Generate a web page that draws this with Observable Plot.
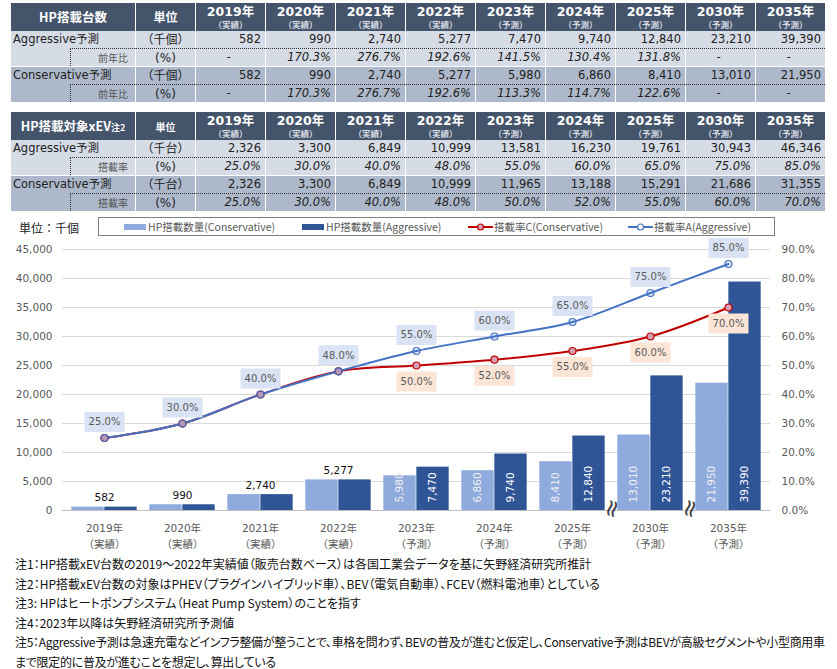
<!DOCTYPE html>
<html><head><meta charset="utf-8">
<script src="https://cdn.jsdelivr.net/npm/d3@7"></script>
<script src="https://cdn.jsdelivr.net/npm/@observablehq/plot@0.6"></script>
<style>
body{margin:0;background:#fff;width:837px;height:669px;overflow:hidden;position:relative;font-family:"DejaVu Sans","Noto Sans CJK JP",sans-serif}
.tbl{position:absolute;left:11px;width:814px;table-layout:fixed;border-collapse:separate;border-spacing:0;color:#222}
.tbl th{background:#44546a;color:#fff;padding:0;border-left:1px solid #fff;vertical-align:middle;text-align:center;line-height:1;height:28px;font-weight:bold}
.tbl th:first-child{border-left:0}
.tbl th.ttl{font-size:12.5px;font-family:"Noto Sans CJK JP","DejaVu Sans",sans-serif}
.tbl th.ttl small{font-size:9px}
.tbl th.unit{font-size:12px;font-family:"Noto Sans CJK JP",sans-serif}
.tbl .yr{font-size:12.5px;font-weight:bold}
.tbl .st{font-size:8.5px;font-weight:bold;color:#d5dae2;margin-top:2px;font-family:"Noto Sans CJK JP",sans-serif}
.tbl td{padding:0 4px 0 0;font-size:11.5px;border-left:1px solid #fff;line-height:1;white-space:nowrap;height:17px}
.tbl td:first-child{border-left:0}
.tbl tr.r2 td{border-top:1px dotted #333}
.tbl tr.r2 td.blank{border-top:0}
.tbl tr.r2 td.sub{border-left:1px dotted #333;text-align:right;font-size:10px;color:#555;padding-right:7px;font-family:"Noto Sans CJK JP",sans-serif}
.tbl tr.agg td{background:#d6dce5}
.tbl tr.con td{background:#adb9ca}
.tbl tr.con.r1 td{border-top:1px solid #fff}
.tbl td.num{text-align:right}
.tbl td.dash{text-align:center}
.tbl td.it{font-style:italic}
.tbl td.u{text-align:center;padding:0;font-size:12px}
.tbl td.name{text-align:left;padding-left:2px;font-size:11.5px}
#unit{position:absolute;left:19px;top:219px;font-size:12px;color:#222;font-family:"Noto Sans CJK JP",sans-serif}
#legend{position:absolute;left:98px;top:217px;width:677px;height:19px;border:1px solid #7f7f7f;box-sizing:border-box}
.li{position:absolute;top:0;height:17px;display:flex;align-items:center;font-size:10.5px;color:#595959;font-family:"Noto Sans CJK JP",sans-serif}
#chart{position:absolute;left:0;top:232px}
#notes{position:absolute;left:15px;top:554px;font-size:12px;line-height:19.5px;color:#111;font-family:"Noto Sans CJK JP",sans-serif;font-feature-settings:"palt";white-space:nowrap}
#notes .tight{letter-spacing:-0.3px}
</style></head>
<body>
<table class="tbl" id="t1" style="top:3px"></table>
<table class="tbl" id="t2" style="top:112px"></table>
<div id="unit">単位：千個</div>
<div id="legend"></div>
<div id="chart"></div>
<div id="notes"></div>
<script>
// ---------- data ----------
const years = ["2019年","2020年","2021年","2022年","2023年","2024年","2025年","2030年","2035年"];
const status = ["実績","実績","実績","実績","予測","予測","予測","予測","予測"];
const hpAggressive = [582,990,2740,5277,7470,9740,12840,23210,39390];
const hpAggressiveYoY = [null,170.3,276.7,192.6,141.5,130.4,131.8,null,null];
const hpConservative = [582,990,2740,5277,5980,6860,8410,13010,21950];
const hpConservativeYoY = [null,170.3,276.7,192.6,113.3,114.7,122.6,null,null];
const xevAggressive = [2326,3300,6849,10999,13581,16230,19761,30943,46346];
const rateAggressive = [25,30,40,48,55,60,65,75,85];
const xevConservative = [2326,3300,6849,10999,11965,13188,15291,21686,31355];
const rateConservative = [25,30,40,48,50,52,55,60,70];
const yTicks = [0,5000,10000,15000,20000,25000,30000,35000,40000,45000];
const breakAfter = ["2025年","2030年"];
const legendItems = [
  {label:"HP搭載数量(Conservative)", type:"bar", color:"#8faadc", left:25},
  {label:"HP搭載数量(Aggressive)", type:"bar", color:"#2f5597", left:203},
  {label:"搭載率C(Conservative)", type:"line", color:"#c00000", fill:"#d4a0b4", left:369},
  {label:"搭載率A(Aggressive)", type:"line", color:"#4472c4", fill:"#ffffff", left:529}
];
const notes = [
  "注1：HP搭載xEV台数の2019～2022年実績値（販売台数ベース）は各国工業会データを基に矢野経済研究所推計",
  "注2：HP搭載xEV台数の対象はPHEV（プラグインハイブリッド車）、BEV（電気自動車）、FCEV（燃料電池車）としている",
  "注3: HPはヒートポンプシステム（Heat Pump System）のことを指す",
  "注4：2023年以降は矢野経済研究所予測値",
  "注5：Aggressive予測は急速充電などインフラ整備が整うことで、車格を問わず、BEVの普及が進むと仮定し、Conservative予測はBEVが高級セグメントや小型商用車",
  "まで限定的に普及が進むことを想定し、算出している"
];

const fmtInt = d3.format(",");
const fmtPct = d => d == null ? "-" : d.toFixed(1) + "%";

// ---------- tables ----------
function tableHTML(title, unitLabel, groups){
  let h = `<colgroup><col style="width:59px"><col style="width:65px"><col style="width:60px">${years.map(()=>'<col style="width:70px">').join("")}</colgroup>`;
  h += `<tr class="hdr"><th colspan="2" class="ttl">${title}</th><th class="unit">${unitLabel}</th>${years.map((y,i)=>`<th><div class="yr">${y}</div><div class="st">（${status[i]}）</div></th>`).join("")}</tr>`;
  groups.forEach(g=>{
    h += `<tr class="r1 ${g.cls}"><td colspan="2" class="name">${g.name}</td><td class="u">${g.unit}</td>${g.values.map(v=>`<td class="num">${fmtInt(v)}</td>`).join("")}</tr>`;
    h += `<tr class="r2 ${g.cls}"><td class="blank"></td><td class="sub">${g.subName}</td><td class="u">(%)</td>${g.sub.map(v=>`<td class="${v==null?'dash':'num'} it">${fmtPct(v)}</td>`).join("")}</tr>`;
  });
  return h;
}
document.getElementById("t1").innerHTML = tableHTML("HP搭載台数", "単位", [
  {cls:"agg", name:"Aggressive予測", unit:"（千個）", values:hpAggressive, subName:"前年比", sub:hpAggressiveYoY},
  {cls:"con", name:"Conservative予測", unit:"（千個）", values:hpConservative, subName:"前年比", sub:hpConservativeYoY}
]);
document.getElementById("t2").innerHTML = tableHTML("HP搭載対象xEV<small>注2</small>", "<span style='font-size:10px'>単位</span>", [
  {cls:"agg", name:"Aggressive予測", unit:"（千台）", values:xevAggressive, subName:"搭載率", sub:rateAggressive},
  {cls:"con", name:"Conservative予測", unit:"（千台）", values:xevConservative, subName:"搭載率", sub:rateConservative}
]);

// ---------- legend ----------
const lg = document.getElementById("legend");
legendItems.forEach(it=>{
  const d = document.createElement("div");
  d.className = "li";
  d.style.left = it.left + "px";
  const sw = it.type === "bar"
    ? `<svg width="22" height="8" style="margin-right:2px"><rect x="0" y="1" width="22" height="6" fill="${it.color}"/></svg>`
    : `<svg width="25" height="10" style="margin-right:1px"><line x1="0" y1="5" x2="25" y2="5" stroke="${it.color}" stroke-width="2"/><circle cx="12.5" cy="5" r="3" fill="${it.fill}" stroke="${it.color}" stroke-width="1.2"/></svg>`;
  d.innerHTML = sw + `<span>${it.label}</span>`;
  lg.appendChild(d);
});

// ---------- notes ----------
document.getElementById("notes").innerHTML = notes.map((n,i)=>`<div class="${i>=4?'tight':''}">${n}</div>`).join("");

// ---------- chart ----------
const K = 500; // 1% on right axis = 500 units on left axis (90% ↔ 45,000)
const cats = years.map((y,i)=>`${y}\n（${status[i]}）`);
const rows = cats.map((c,i)=>({cat:c, st:status[i], cons:hpConservative[i], agg:hpAggressive[i], rc:rateConservative[i], ra:rateAggressive[i]}));
const breaks = breakAfter.map(y=>({cat: cats[years.indexOf(y)], sym:"≈"}));
const W=837, H=323, mL=62, mR=67, mT=17, mB=45;
const bw=(W-mL-mR)/cats.length, barW=33;
const boxSymbol = {draw(ctx){ ctx.rect(-20, -10, 40, 20); }};
const conLabels = rows.filter(d=>d.rc!==d.ra);

const plot = Plot.plot({
  width:W, height:H, marginLeft:mL, marginRight:mR, marginTop:mT, marginBottom:mB,
  style:{fontFamily:'"DejaVu Sans","Noto Sans CJK JP",sans-serif', fontSize:"10.5px", color:"#595959", background:"transparent", overflow:"visible"},
  x:{type:"band", domain:cats, padding:0},
  y:{domain:[0,45000]},
  marks:[
    Plot.gridY(yTicks,{stroke:"#d9d9d9", strokeOpacity:1}),
    Plot.ruleY([0],{stroke:"#bfbfbf"}),
    Plot.barY(rows,{x:"cat", y:"cons", fill:"#8faadc", insetLeft:bw/2-barW, insetRight:bw/2}),
    Plot.barY(rows,{x:"cat", y:"agg", fill:"#2f5597", insetLeft:bw/2, insetRight:bw/2-barW}),
    Plot.text(rows.filter(d=>d.st==="実績"),{x:"cat", y:"agg", text:d=>fmtInt(d.agg), dy:-9, fill:"#111", fontSize:10.5}),
    Plot.text(rows.filter(d=>d.st==="予測"),{x:"cat", y:()=>0, text:d=>fmtInt(d.cons), rotate:-90, textAnchor:"start", dx:-barW/2, dy:-8, fill:"#f2f2f2", fontSize:10.5}),
    Plot.text(rows.filter(d=>d.st==="予測"),{x:"cat", y:()=>0, text:d=>fmtInt(d.agg), rotate:-90, textAnchor:"start", dx:barW/2, dy:-8, fill:"#ffffff", fontSize:10.5}),
    Plot.text(breaks,{x:"cat", y:()=>0, text:"sym", rotate:-75, dx:bw/2, dy:-2, fontSize:24, fill:"#404040"}),
    Plot.line(rows,{x:"cat", y:d=>d.rc*K, stroke:"#c00000", strokeWidth:2, curve:"catmull-rom"}),
    Plot.line(rows,{x:"cat", y:d=>d.ra*K, stroke:"#4472c4", strokeWidth:2, curve:"catmull-rom"}),
    Plot.dot(rows,{x:"cat", y:d=>d.rc*K, r:3.5, fill:"#d4a0b4", stroke:"#c00000", strokeWidth:1.2}),
    Plot.dot(rows,{x:"cat", y:d=>d.ra*K, r:3.5, fill:"#4472c4", fillOpacity:0.2, stroke:"#4472c4", strokeWidth:1.2}),
    Plot.dot(rows,{x:"cat", y:d=>d.ra*K, symbol:boxSymbol, dy:-16, fill:"#dae3f3", stroke:"none"}),
    Plot.dot(conLabels,{x:"cat", y:d=>d.rc*K, symbol:boxSymbol, dy:16, fill:"#fbe5d6", stroke:"none"}),
    Plot.text(rows,{x:"cat", y:d=>d.ra*K, text:d=>fmtPct(d.ra), dy:-16, fill:"#595959", fontSize:10}),
    Plot.text(conLabels,{x:"cat", y:d=>d.rc*K, text:d=>fmtPct(d.rc), dy:16, fill:"#595959", fontSize:10}),
    Plot.axisY({ticks:yTicks, tickFormat:fmtInt, tickSize:0, tickPadding:10, label:null}),
    Plot.axisY({ticks:yTicks, anchor:"right", tickFormat:d=>(d/K).toFixed(1)+"%", tickSize:0, tickPadding:11, label:null}),
    Plot.axisX({tickSize:0, tickPadding:10, label:null, lineHeight:1.55})
  ]
});
document.getElementById("chart").appendChild(plot);
</script>
</body></html>
